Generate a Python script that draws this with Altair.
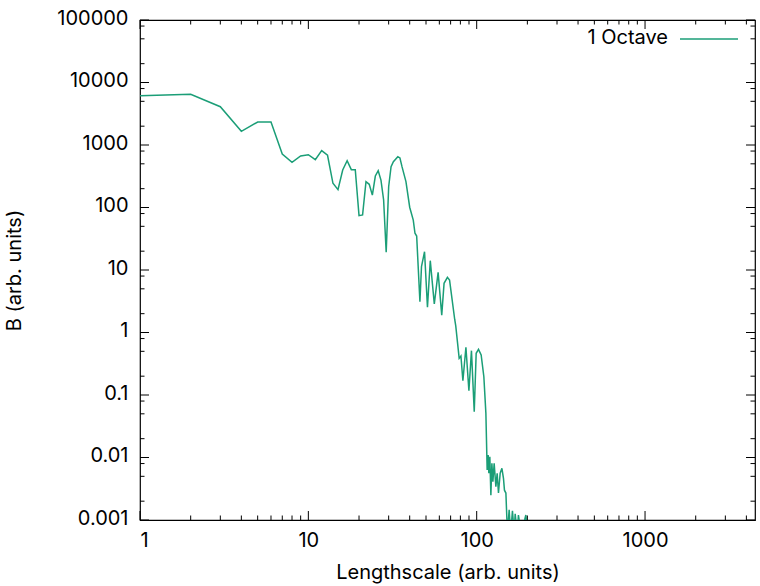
import altair as alt
import pandas as pd

# Lengthscale (arb. units) and spectral amplitude B (arb. units), 1-octave filter
lengthscale = [
    1, 2, 3, 4, 5, 6, 7, 8, 9, 10, 11, 12, 13, 14, 15, 16, 17, 18, 19, 20,
    21, 22, 23, 24, 25, 26, 27, 28, 29, 30, 31, 32, 34, 35, 36, 38, 40, 42,
    43, 44, 46, 47, 49, 51, 53, 56, 59, 62, 64, 67, 69, 74, 75.1, 78.7, 80.6,
    82.8, 86.3, 89.9, 93.1, 96.7, 99.3, 102.5, 106.3, 110.3, 113.4, 115.4,
    117, 118.1, 119.7, 121.4, 123.1, 124.8, 127, 130, 132.3, 134.7, 137.9,
    141.2, 144.3, 146.2, 149.1, 152.3, 155.9, 159.1, 163.1, 167, 169.3, 174,
    177, 183.7, 195.9, 199.4,
]
amplitude = [
    6150, 6470, 4100, 1655, 2335, 2335, 718, 529, 667, 700, 582, 812, 685,
    244, 193, 398, 561, 403, 403, 74, 76, 259, 235, 158, 319, 388, 275, 132,
    19.2, 215, 450, 541, 650, 620, 450, 259, 101, 63, 38.7, 35, 3.11, 11.3,
    19.6, 2.53, 14.1, 2.86, 9.18, 1.9, 6.12, 7.64, 6.9, 1.63, 1.28, 0.386,
    0.42, 0.169, 0.58, 0.117, 0.512, 0.054, 0.465, 0.538, 0.436, 0.196,
    0.051, 0.0063, 0.011, 0.0056, 0.0103, 0.0025, 0.0081, 0.0041, 0.0081,
    0.0034, 0.0056, 0.0027, 0.0056, 0.0067, 0.0046, 0.0030, 0.0027, 0.0006,
    0.00145, 0.0006, 0.0014, 0.0006, 0.00126, 0.0006, 0.0012, 0.0006,
    0.0012, 0.0006,
]

series_name = "1 Octave"
x_title = "Lengthscale (arb. units)"
y_title = "B (arb. units)"

X_MIN, X_MAX = 1, 4500
Y_MIN, Y_MAX = 0.001, 100000
W, H = 615, 500
FONT = "Inter"
LINE_COLOR = "#1b9e77"

x_major = [1, 10, 100, 1000]
x_minor = [m * 10 ** d for d in range(0, 4) for m in range(2, 10) if m * 10 ** d <= X_MAX]
y_major = [10.0 ** e for e in range(-3, 6)]
y_minor = [m * 10.0 ** e for e in range(-3, 5) for m in (2, 5, 8)]

df = pd.DataFrame({"L": lengthscale, "B": amplitude})

xs = alt.Scale(type="log", domain=[X_MIN, X_MAX], nice=False)
ys = alt.Scale(type="log", domain=[Y_MIN, Y_MAX], nice=False)

x_axis = alt.Axis(values=x_major, format="~g", title=x_title, ticks=False,
                  domain=False, grid=False, labelPadding=10, titlePadding=12)
y_axis = alt.Axis(values=y_major, format="~g", title=y_title, ticks=False,
                  domain=False, grid=False, labelPadding=12, labelOffset=-2,
                  titlePadding=32)

line = alt.Chart(df).mark_line(color=LINE_COLOR, strokeWidth=1.5, clip=True).encode(
    x=alt.X("L:Q", scale=xs, axis=x_axis),
    y=alt.Y("B:Q", scale=ys, axis=y_axis),
)


def x_ticks(values, length):
    d = pd.DataFrame({"L": values})
    base = alt.Chart(d).mark_rule(color="black", strokeWidth=1)
    bottom = base.encode(x=alt.X("L:Q", scale=xs, axis=x_axis),
                         y=alt.value(H), y2=alt.value(H - length))
    top = base.encode(x=alt.X("L:Q", scale=xs, axis=x_axis),
                      y=alt.value(0), y2=alt.value(length))
    return [bottom, top]


def y_ticks(values, length):
    d = pd.DataFrame({"B": values})
    base = alt.Chart(d).mark_rule(color="black", strokeWidth=1)
    left = base.encode(y=alt.Y("B:Q", scale=ys, axis=y_axis),
                       x=alt.value(0), x2=alt.value(length))
    right = base.encode(y=alt.Y("B:Q", scale=ys, axis=y_axis),
                        x=alt.value(W), x2=alt.value(W - length))
    return [left, right]


ticks = x_ticks(x_major, 9) + x_ticks(x_minor, 4.5) + y_ticks(y_major, 9) + y_ticks(y_minor, 4.5)

key = pd.DataFrame({"t": [series_name]})
key_text = alt.Chart(key).mark_text(
    align="right", baseline="alphabetic", font=FONT, fontSize=20, color="black"
).encode(text="t:N", x=alt.value(528), y=alt.value(24))
key_line = alt.Chart(key).mark_rule(color=LINE_COLOR, strokeWidth=1.5).encode(
    x=alt.value(540), x2=alt.value(598), y=alt.value(19))

chart = alt.layer(line, *ticks, key_text, key_line).properties(
    width=W, height=H,
    autosize=alt.AutoSizeParams(type="none"),
    padding={"left": 140, "top": 20, "right": 5, "bottom": 66},
).configure_view(
    stroke="black", strokeWidth=1.2
).configure_axis(
    labelFont=FONT, labelFontSize=20, labelColor="black",
    titleFont=FONT, titleFontSize=20, titleFontWeight="normal", titleColor="black",
)

chart.save("out.html", embed_options={"renderer": "svg", "actions": False})
